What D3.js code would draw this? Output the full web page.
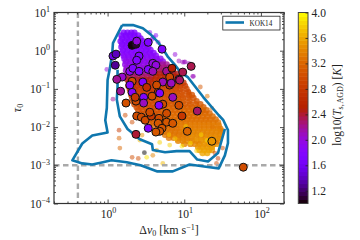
<!DOCTYPE html>
<html><head><meta charset="utf-8">
<script src="https://cdn.jsdelivr.net/npm/d3@7"></script>
<style>html,body{margin:0;padding:0;background:#fff}svg{display:block}text{font-family:"Liberation Serif",serif;fill:#222}</style>
</head><body><svg id="c" width="360" height="240"></svg>
<script>
// all positions in log10 of the axis quantity
const xMajor=[1,10,100], xLabels=["0","1","2"];
const yMajor=[10,1,0.1,0.01,0.001,0.0001], yLabels=["1","0","\u22121","\u22122","\u22123","\u22124"];
const cbTicks=[1.2,1.6,2.0,2.4,2.8,3.2,3.6,4.0];
const thresholdDv=0.41, thresholdTau=0.001;
const legendName="KOK14";

// cloud of small points, grouped in clumps: one log tau, one log T, many log dv
const cloudTau=[.47,.40,.32,.25,.17,.10,.02,-.06,-.13,-.21,-.28,-.36,-.36,-.44,-.44,-.52,-.52,-.60,-.60,-.68,-.68,-.76,-.76,-.84,-.84,-.92,-.92,-1.0,-1.0,-1.08,-1.08,-1.16,-1.16,-1.24,-1.24,-1.32,-1.32,-1.4,-1.4,-1.48,-1.48,-1.56,-1.56,-1.64,-1.64,-1.72,-1.72,-1.8,-1.8,-1.88,-1.88,-1.96,-1.96,-2.04,-2.04,-2.12,-2.12,-2.2,-2.2,-2.28,-2.28,-2.36,-2.36,-2.44,-2.44,-2.52,-2.6,-2.68,-2.76];
const cloudTemp=[1.72,1.72,1.75,1.75,1.75,1.78,1.8,1.8,1.85,1.88,1.95,1.95,2.2,2.0,2.25,2.05,2.3,2.2,2.45,2.3,2.55,2.45,2.6,2.6,2.75,2.7,2.85,2.75,2.95,2.85,3.0,2.9,3.05,2.95,3.05,3.0,3.1,3.0,3.1,3.0,3.15,3.05,3.2,3.05,3.2,3.1,3.25,3.1,3.25,3.15,3.3,3.2,3.35,3.25,3.35,3.3,3.4,3.3,3.4,3.35,3.45,3.4,3.5,3.4,3.5,3.5,3.55,3.6,3.65];
const cloudDv=[
[.21,.26,.31,.35],
[.18,.24,.29,.35,.40],
[.19,.25,.31,.37,.43],
[.17,.23,.28,.34,.40,.46],
[.19,.25,.31,.37,.43,.49],
[.18,.24,.30,.36,.42,.48,.53],
[.20,.26,.32,.38,.44,.50,.56],
[.19,.25,.31,.37,.43,.49,.55,.60],
[.21,.27,.33,.39,.45,.51,.57,.63],
[.22,.28,.34,.40,.46,.52,.58,.64,.69],
[.24,.30,.36,.42,.48,.54,.60,.66,.72],
[.23,.29,.35,.41,.47,.53],[.60,.66,.72,.77],
[.25,.31,.37,.43,.49,.55],[.61,.67,.73,.79,.84],
[.24,.30,.36,.42,.48,.54],[.60,.67,.73,.79,.85],
[.26,.32,.38,.44,.50,.56],[.62,.68,.74,.80,.86,.91],
[.27,.33,.39,.45,.51,.57],[.63,.69,.75,.81,.87,.93],
[.26,.32,.38,.44,.50,.56],[.62,.68,.74,.80,.87,.94],
[.28,.34,.40,.46,.52,.58],[.64,.70,.76,.82,.88,.94,.99],
[.27,.33,.39,.45,.51,.57],[.63,.70,.77,.83,.89,.95,1.01],
[.29,.35,.41,.47,.53,.59],[.65,.71,.77,.83,.89,.95,1.03],
[.30,.36,.42,.48,.54,.60],[.66,.72,.78,.84,.90,.97,1.05],
[.31,.37,.43,.49,.55,.61],[.67,.73,.79,.85,.91,.98,1.06,1.10],
[.32,.38,.44,.50,.56,.62],[.68,.74,.80,.86,.92,.98,1.05,1.12],
[.33,.39,.45,.51,.57,.63],[.69,.75,.81,.87,.93,.99,1.07,1.16],
[.35,.41,.47,.53,.59,.65],[.71,.77,.83,.89,.95,1.01,1.08,1.15,1.21],
[.38,.44,.50,.56,.62,.68],[.74,.80,.86,.92,.98,1.04,1.10,1.17,1.25],
[.40,.46,.52,.58,.64,.70],[.76,.82,.88,.94,1.0,1.06,1.12,1.19,1.24,1.29],
[.43,.49,.55,.61,.67],[.73,.79,.85,.91,.97,1.03,1.09,1.15,1.21,1.27,1.33],
[.46,.52,.58,.64,.70],[.76,.82,.88,.94,1.0,1.06,1.12,1.18,1.24,1.30,1.37],
[.50,.56,.62,.68,.74],[.80,.86,.92,.98,1.04,1.10,1.16,1.22,1.28,1.34,1.41],
[.54,.60,.66,.72,.78],[.84,.90,.96,1.02,1.08,1.14,1.20,1.26,1.32,1.38,1.44],
[.60,.66,.72,.78,.84],[.90,.96,1.02,1.08,1.14,1.20,1.26,1.32,1.38,1.45],
[.66,.72,.78,.84,.90],[.96,1.02,1.08,1.14,1.20,1.26,1.32,1.38,1.44,1.47],
[.70,.76,.82,.88,.94],[1.0,1.06,1.12,1.18,1.24,1.30,1.36,1.42,1.48],
[.75,.81,.87,.93,.99],[1.05,1.11,1.17,1.23,1.29,1.35,1.41,1.47],
[.80,.86,.92,.98,1.04],[1.10,1.16,1.22,1.28,1.34,1.40,1.46],
[.92,.98,1.04,1.10],[1.16,1.22,1.28,1.34,1.40,1.45],
[1.00,1.08,1.14,1.20],[1.26,1.32,1.38,1.42],
[1.18,1.24,1.30,1.36],
[1.20,1.26,1.32,1.36],
[1.24,1.30]
];

// isolated small points
const looseDv=[-.01,.07,.23,.15,.15,.16,.32,.40,.48,.51,.59,.64,.72,.32,.42,.45,.68,.81,.91,.98,1.11,1.06,1.30,1.36,1.50,1.46,1.50,1.44,1.40,1.42,1.37,.63,.58,.88,1.0,1.06,1.12,1.21,1.43,.55,.60,.66,.72,.93,1.01,1.08,1.22,.97,1.16,1.3,1.02,.88,.8];
const looseTau=[-.49,-1.27,-1.69,-2.08,-2.29,-2.55,-2.79,-2.82,-2.67,-2.79,-2.74,-2.61,-2.95,-1.87,-2.34,-2.21,-2.40,-2.47,-2.34,-.30,-.67,-1.09,-1.19,-1.51,-2.08,-2.29,-2.55,-2.82,-2.68,-2.95,-2.00,.40,.30,-.10,-.30,-.33,-.67,-.95,-2.4,.48,.35,.22,.05,-.27,-.29,-2.42,-2.2,-2.5,-2.62,-2.35,-1.98,-2.3,-2.2];
const looseTemp=[2.0,2.2,3.0,2.8,3.2,3.2,3.0,3.0,1.0,3.9,3.4,3.6,3.7,3.0,3.7,3.5,3.8,3.8,3.5,2.1,2.1,3.0,3.3,3.2,3.3,3.4,3.0,2.8,2.9,3.0,3.3,1.8,1.9,2.0,2.1,2.1,2.1,3.1,3.2,1.8,1.85,1.9,1.95,2.1,2.1,3.9,3.85,3.9,3.8,3.9,3.8,3.8,3.75];

// large outlined points
const bigDv=[.32,.37,.53,.71,.38,.41,.07,.11,.10,.38,.29,.19,.12,.17,.33,.41,.53,.59,.63,.59,.77,.84,.81,.93,.72,.46,.32,.29,.32,.64,.51,.81,.66,.85,.58,.47,.37,.24,.47,.72,.36,.67,.68,.93,1.17,.97,.38,.44,.49,.57,.67,.77,.85,.66,.71,.68,.63,1.04,.53,.37,1.09,.98,.94,.83,1.36,1.77,.55,.77];
const bigTau=[.14,.17,.22,.04,.25,-.14,-.14,-.09,-.38,-.25,-.54,-.69,-.75,-1.06,-.46,-.54,-.49,-.33,-.38,-.54,-.54,-.46,-.69,-.75,-.82,-.82,-.80,-.90,-1.09,-.90,-.96,-.90,-1.09,-1.22,-1.19,-1.22,-1.32,-1.37,-1.37,-1.40,-1.22,-1.43,-1.11,-1.43,-1.58,-1.71,-1.71,-1.74,-1.82,-1.71,-1.77,-1.87,-1.90,-1.90,-2.03,-2.11,-2.13,-2.11,-2.03,-2.19,-.41,-.56,-.77,-.85,-2.37,-3.05,-1.61,-1.64];
const bigTemp=[1.02,1.1,1.75,1.75,2.0,1.8,1.55,1.4,1.3,1.8,1.9,2.05,2.2,2.2,1.75,1.75,1.8,2.0,2.0,2.1,2.2,2.5,2.95,2.25,2.1,1.75,3.0,1.8,1.85,3.0,2.7,2.7,2.9,2.1,3.0,1.75,3.0,3.05,2.1,3.0,2.8,1.8,1.75,3.0,2.3,2.8,3.0,3.0,3.0,2.8,3.0,3.1,3.1,3.1,3.1,3.1,3.1,3.2,1.8,2.4,2.35,2.35,2.3,2.1,3.5,3.0,3.0,3.0];

// KOK14 contour, log dv / log tau
const outerDv=[.19,.33,.46,.57,.66,.73,.79,.87,.95,1.05,1.25,1.45,1.51,1.57,1.57,1.53,1.45,1.33,1.07,.85,.65,.43,.25,.05,-.06,-.2,-.33,-.46,-.33,-.2,-.0,-.03,-.01,0,.03,.06,.07,.19];
const outerTau=[.67,.67,.59,.41,.22,.02,-.17,-.35,-.56,-.70,-1.22,-1.69,-1.82,-2.08,-2.42,-2.74,-3.08,-3.05,-2.98,-3.16,-3.16,-3.0,-2.92,-2.87,-2.92,-2.98,-2.95,-2.87,-2.43,-2.22,-2.14,-1.82,-1.5,-.77,-.46,-.08,.2,.67];
const innerDv=[.13,.13,.12,.16,.26,.42,.58,.59,.75,.9,1.07,1.17,1.31,1.44,1.53];
const innerTau=[-.5,-.95,-1.28,-1.72,-2.05,-2.32,-2.45,-2.6,-2.66,-2.63,-2.63,-2.85,-2.9,-2.68,-2.05];

const W=360,H=240,L=54,R=284,T=12.5,B=203.5;
const svg=d3.select("#c");
const x=d3.scaleLog().domain([0.2,200]).range([L,R]);
const y=d3.scaleLog().domain([0.0001,10]).range([B,T]);
const cmap=t=>{const v=Math.max(0,Math.min(1,(t-1)/3));
  const r=Math.sqrt(v),g=v*v*v,b=Math.max(0,Math.sin(2*Math.PI*v));
  return d3.rgb(255*r,255*g,255*b).formatHex();};
const P=v=>Math.pow(10,v);

// clouds
const cloud=[];
cloudDv.forEach((list,i)=>list.forEach(d=>cloud.push({d,t:cloudTau[i],c:cloudTemp[i]})));
const gs=svg.append("g");
gs.selectAll("circle").data(cloud).join("circle")
  .attr("cx",p=>x(P(p.d))).attr("cy",p=>y(P(p.t))).attr("r",3.2).attr("fill-opacity",0.8).attr("fill",p=>cmap(p.c));
svg.append("g").attr("fill-opacity",0.5).selectAll("circle").data(looseDv).join("circle")
  .attr("cx",d=>x(P(d))).attr("cy",(d,i)=>y(P(looseTau[i]))).attr("r",2.4).attr("fill",(d,i)=>cmap(looseTemp[i]));

// threshold lines
const dash="5.5,3.5";
svg.append("line").attr("x1",x(thresholdDv)).attr("x2",x(thresholdDv)).attr("y1",T).attr("y2",B)
  .attr("stroke","#a9a9a9").attr("stroke-width",2.4).attr("stroke-dasharray",dash);
svg.append("line").attr("x1",L).attr("x2",R).attr("y1",y(thresholdTau)).attr("y2",y(thresholdTau))
  .attr("stroke","#a9a9a9").attr("stroke-width",2.4).attr("stroke-dasharray",dash);

// contour
const ln=d3.line().x(p=>x(P(p[0]))).y(p=>y(P(p[1])));
svg.append("path").attr("d",ln(outerDv.map((d,i)=>[d,outerTau[i]]))).attr("fill","none").attr("stroke","#0f77ae").attr("stroke-width",2.6).attr("stroke-linejoin","round");
svg.append("path").attr("d",ln(innerDv.map((d,i)=>[d,innerTau[i]]))).attr("fill","none").attr("stroke","#0f77ae").attr("stroke-width",2.6).attr("stroke-linejoin","round");

// big points
svg.append("g").selectAll("circle").data(bigDv).join("circle")
  .attr("cx",d=>x(P(d))).attr("cy",(d,i)=>y(P(bigTau[i]))).attr("r",4)
  .attr("fill",(d,i)=>cmap(bigTemp[i])).attr("stroke","#111").attr("stroke-width",1);

// frame and ticks
const minors=(lo,hi)=>{const o=[];for(let e=lo;e<=hi;e++)for(let m=2;m<=9;m++){const v=m*P(e);o.push(v);}return o;};
const xm=minors(-1,2).filter(v=>v>=0.2&&v<=200), ym=minors(-4,0);
const ax=(g,gen)=>g.call(gen).call(s=>s.select(".domain").remove()).call(s=>s.selectAll("line").attr("stroke","#222").attr("stroke-width",.8));
const nf=()=>"";
[[d3.axisBottom,B,-1],[d3.axisTop,T,1]].forEach(([a,py,s])=>{
  ax(svg.append("g").attr("transform",`translate(0,${py})`),a(x).tickValues(xMajor).tickSize(-4).tickFormat(nf));
  ax(svg.append("g").attr("transform",`translate(0,${py})`),a(x).tickValues(xm).tickSize(-2).tickFormat(nf));
});
[[d3.axisLeft,L],[d3.axisRight,R]].forEach(([a,px])=>{
  ax(svg.append("g").attr("transform",`translate(${px},0)`),a(y).tickValues(yMajor).tickSize(-4).tickFormat(nf));
  ax(svg.append("g").attr("transform",`translate(${px},0)`),a(y).tickValues(ym).tickSize(-2).tickFormat(nf));
});
svg.append("rect").attr("x",L).attr("y",T).attr("width",R-L).attr("height",B-T).attr("fill","none").attr("stroke","#333").attr("stroke-width",1.2);

// tick labels
function pow(sel,exp,size){
  sel.append("tspan").text("10").attr("font-size",size);
  sel.append("tspan").text(exp).attr("font-size",size*.7).attr("dy",-size*.4);
}
xMajor.forEach((v,i)=>{const t=svg.append("text").attr("x",x(v)+1).attr("y",218).attr("text-anchor","middle");pow(t,xLabels[i],11.5);});
yMajor.forEach((v,i)=>{const t=svg.append("text").attr("x",50).attr("y",y(v)+4).attr("text-anchor","end");pow(t,yLabels[i],11.5);});

// axis labels
const xl=svg.append("text").attr("x",169).attr("y",234).attr("text-anchor","middle").attr("font-size",12);
xl.append("tspan").text("\u0394");
xl.append("tspan").text("v").attr("font-style","italic");
xl.append("tspan").text("0").attr("font-size",8).attr("dy",2);
xl.append("tspan").text(" [km s").attr("dy",-2);
xl.append("tspan").text("\u22121").attr("font-size",8).attr("dy",-4);
xl.append("tspan").text("]").attr("dy",4);
const yl=svg.append("text").attr("transform","translate(21,108) rotate(-90)").attr("text-anchor","middle").attr("font-size",12);
yl.append("tspan").text("\u03C4").attr("font-style","italic");
yl.append("tspan").text("0").attr("font-size",8).attr("dy",2);

// legend
svg.append("rect").attr("x",222.8).attr("y",16.2).attr("width",57.2).attr("height",13.8).attr("fill","#fff").attr("stroke","#222").attr("stroke-width",.8);
svg.append("line").attr("x1",225.5).attr("x2",244).attr("y1",22.5).attr("y2",22.5).attr("stroke","#0f77ae").attr("stroke-width",2.6);
svg.append("text").attr("x",249.5).attr("y",25.5).attr("font-size",7.2).text(legendName);

// colour bar
const cbX0=298.3,cbX1=308;
const cb=d3.scaleLinear().domain([1,4]).range([B,T]);
const levels=d3.range(48);
svg.append("g").selectAll("rect").data(levels).join("rect")
  .attr("x",cbX0).attr("width",cbX1-cbX0)
  .attr("y",l=>cb(1+(l+1)*3/48)).attr("height",l=>cb(1+l*3/48)-cb(1+(l+1)*3/48)+.5)
  .attr("fill",l=>cmap(1+(l+.5)*3/48));
svg.append("rect").attr("x",cbX0).attr("y",T).attr("width",cbX1-cbX0).attr("height",B-T).attr("fill","none").attr("stroke","#444").attr("stroke-width",1);
const cbg=svg.append("g").attr("transform",`translate(${cbX1},0)`);
cbg.call(d3.axisRight(cb).tickValues(cbTicks).tickSize(-2.5).tickFormat(nf)).call(s=>s.select(".domain").remove()).call(s=>s.selectAll("line").attr("stroke","#222").attr("stroke-width",.8));
cbTicks.forEach(v=>svg.append("text").attr("x",311.5).attr("y",cb(v)+4).attr("font-size",11.5).text(v.toFixed(1)));
const cl=svg.append("text").attr("transform","translate(341,105) rotate(-90)").attr("text-anchor","middle").attr("font-size",11.5);
cl.append("tspan").text("log10(");
cl.append("tspan").text("T").attr("font-style","italic");
cl.append("tspan").text("s,\u200AAGD").attr("font-size",8).attr("dy",2);
cl.append("tspan").text(") [").attr("dy",-2);
cl.append("tspan").text("K").attr("font-style","italic");
cl.append("tspan").text("]");
</script></body></html>
